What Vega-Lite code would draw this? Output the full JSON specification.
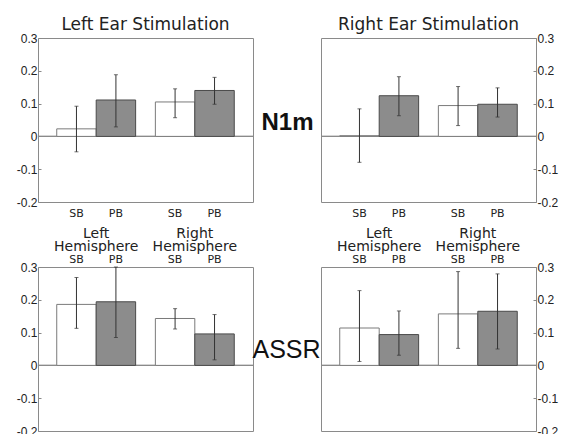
{
  "$schema": "https://vega.github.io/schema/vega-lite/v6.json",
  "padding": {"left": 15, "top": 15, "right": 0, "bottom": 0},
  "background": "white",
  "datasets": {
    "amp": [
      {"measure": "N1m", "ear": "Left", "hem": "Left Hemisphere", "cond": "SB", "mean": 0.023, "lo": -0.047, "hi": 0.092},
      {"measure": "N1m", "ear": "Left", "hem": "Left Hemisphere", "cond": "PB", "mean": 0.111, "lo": 0.029, "hi": 0.188},
      {"measure": "N1m", "ear": "Left", "hem": "Right Hemisphere", "cond": "SB", "mean": 0.105, "lo": 0.057, "hi": 0.145},
      {"measure": "N1m", "ear": "Left", "hem": "Right Hemisphere", "cond": "PB", "mean": 0.14, "lo": 0.098, "hi": 0.18},
      {"measure": "N1m", "ear": "Right", "hem": "Left Hemisphere", "cond": "SB", "mean": 0.002, "lo": -0.079, "hi": 0.084},
      {"measure": "N1m", "ear": "Right", "hem": "Left Hemisphere", "cond": "PB", "mean": 0.124, "lo": 0.063, "hi": 0.182},
      {"measure": "N1m", "ear": "Right", "hem": "Right Hemisphere", "cond": "SB", "mean": 0.094, "lo": 0.033, "hi": 0.152},
      {"measure": "N1m", "ear": "Right", "hem": "Right Hemisphere", "cond": "PB", "mean": 0.098, "lo": 0.059, "hi": 0.148},
      {"measure": "ASSR", "ear": "Left", "hem": "Left Hemisphere", "cond": "SB", "mean": 0.186, "lo": 0.113, "hi": 0.268},
      {"measure": "ASSR", "ear": "Left", "hem": "Left Hemisphere", "cond": "PB", "mean": 0.194, "lo": 0.085, "hi": 0.3},
      {"measure": "ASSR", "ear": "Left", "hem": "Right Hemisphere", "cond": "SB", "mean": 0.143, "lo": 0.111, "hi": 0.173},
      {"measure": "ASSR", "ear": "Left", "hem": "Right Hemisphere", "cond": "PB", "mean": 0.096, "lo": 0.017, "hi": 0.155},
      {"measure": "ASSR", "ear": "Right", "hem": "Left Hemisphere", "cond": "SB", "mean": 0.114, "lo": 0.012, "hi": 0.228},
      {"measure": "ASSR", "ear": "Right", "hem": "Left Hemisphere", "cond": "PB", "mean": 0.094, "lo": 0.031, "hi": 0.166},
      {"measure": "ASSR", "ear": "Right", "hem": "Right Hemisphere", "cond": "SB", "mean": 0.157, "lo": 0.052, "hi": 0.286},
      {"measure": "ASSR", "ear": "Right", "hem": "Right Hemisphere", "cond": "PB", "mean": 0.165, "lo": 0.05, "hi": 0.279}
    ]
  },
  "data": {"name": "amp"},
  "bounds": "flush",
  "columns": 2,
  "spacing": {"row": 65, "column": 68},
  "concat": [
    {
      "width": 215, "height": 164,
      "title": "Left Ear Stimulation",
      "transform": [{"filter": "datum.measure === 'N1m' && datum.ear === 'Left'"}],
      "layer": [
        {"mark": {"type": "rule", "color": "#8a8a8a", "strokeWidth": 1},
         "encoding": {"y": {"datum": 0, "type": "quantitative", "scale": {"domain": [-0.2, 0.3], "nice": false, "zero": false},
                            "axis": {"orient": "left", "values": [-0.2, -0.1, 0, 0.1, 0.2, 0.3], "labelOverlap": false, "title": null, "labelExpr": "datum.value === 0 ? '0' : replace(format(datum.value, '.1f'), '\u2212', '-')"}}}},
        {
          "encoding": {
            "x": {"field": "hem", "type": "nominal", "sort": ["Left Hemisphere", "Right Hemisphere"], "scale": {"paddingInner": 0.2, "paddingOuter": 0.19}, "axis": null},
            "xOffset": {"field": "cond", "type": "nominal", "sort": ["SB", "PB"], "scale": {"paddingInner": 0, "paddingOuter": 0}}
          },
          "layer": [
            {"mark": {"type": "bar", "strokeWidth": 1},
             "encoding": {
               "y": {"field": "mean", "type": "quantitative", "axis": {"orient": "left", "values": [-0.2, -0.1, 0, 0.1, 0.2, 0.3], "labelOverlap": false, "title": null, "labelExpr": "datum.value === 0 ? '0' : replace(format(datum.value, '.1f'), '\u2212', '-')"}},
               "y2": {"datum": 0},
               "color": {"field": "cond", "type": "nominal", "scale": {"domain": ["SB", "PB"], "range": ["#ffffff", "#8c8c8c"]}, "legend": null},
               "stroke": {"field": "cond", "type": "nominal", "scale": {"domain": ["SB", "PB"], "range": ["#7a7a7a", "#4a4a4a"]}, "legend": null}
             }},
            {"mark": {"type": "rule", "color": "#333333", "strokeWidth": 1},
             "encoding": {"y": {"field": "lo", "type": "quantitative", "axis": {"orient": "left", "values": [-0.2, -0.1, 0, 0.1, 0.2, 0.3], "labelOverlap": false, "title": null, "labelExpr": "datum.value === 0 ? '0' : replace(format(datum.value, '.1f'), '\u2212', '-')"}}, "y2": {"field": "hi"}}},
            {"mark": {"type": "tick", "color": "#333333", "size": 4, "thickness": 1},
             "encoding": {"y": {"field": "lo", "type": "quantitative", "axis": {"orient": "left", "values": [-0.2, -0.1, 0, 0.1, 0.2, 0.3], "labelOverlap": false, "title": null, "labelExpr": "datum.value === 0 ? '0' : replace(format(datum.value, '.1f'), '\u2212', '-')"}}}},
            {"mark": {"type": "tick", "color": "#333333", "size": 4, "thickness": 1},
             "encoding": {"y": {"field": "hi", "type": "quantitative", "axis": {"orient": "left", "values": [-0.2, -0.1, 0, 0.1, 0.2, 0.3], "labelOverlap": false, "title": null, "labelExpr": "datum.value === 0 ? '0' : replace(format(datum.value, '.1f'), '\u2212', '-')"}}}},
            {"mark": {"type": "text", "font": "DejaVu Sans", "fontSize": 11, "color": "#222222", "baseline": "alphabetic", "dy": 15},
             "encoding": {"y": {"datum": -0.2, "axis": {"orient": "left", "values": [-0.2, -0.1, 0, 0.1, 0.2, 0.3], "labelOverlap": false, "title": null, "labelExpr": "datum.value === 0 ? '0' : replace(format(datum.value, '.1f'), '\u2212', '-')"}}, "text": {"field": "cond"}}}
          ]
        }
      ]
    },
    {
      "width": 215, "height": 164,
      "title": "Right Ear Stimulation",
      "transform": [{"filter": "datum.measure === 'N1m' && datum.ear === 'Right'"}],
      "resolve": {"scale": {"y": "independent"}, "axis": {"y": "independent"}},
      "layer": [
        {"mark": {"type": "rule", "color": "#8a8a8a", "strokeWidth": 1},
         "encoding": {"y": {"datum": 0, "type": "quantitative", "scale": {"domain": [-0.2, 0.3], "nice": false, "zero": false},
                            "axis": {"orient": "left", "labels": false, "ticks": false, "domain": false, "title": "N1m",
                                     "titleAngle": 0, "titleFont": "Liberation Sans", "titleFontSize": 24, "titleFontWeight": "bold", "titleColor": "#111111",
                                     "titleAlign": "center", "titleBaseline": "middle", "titleX": -34, "titleY": 84}}}},
        {
          "encoding": {
            "x": {"field": "hem", "type": "nominal", "sort": ["Left Hemisphere", "Right Hemisphere"], "scale": {"paddingInner": 0.2, "paddingOuter": 0.19}, "axis": null},
            "xOffset": {"field": "cond", "type": "nominal", "sort": ["SB", "PB"], "scale": {"paddingInner": 0, "paddingOuter": 0}}
          },
          "layer": [
            {"mark": {"type": "bar", "strokeWidth": 1},
             "encoding": {
               "y": {"field": "mean", "type": "quantitative", "scale": {"domain": [-0.2, 0.3], "nice": false, "zero": false},
                     "axis": {"orient": "right", "values": [-0.2, -0.1, 0, 0.1, 0.2, 0.3], "labelOverlap": false, "title": null, "labelExpr": "datum.value === 0 ? '0' : replace(format(datum.value, '.1f'), '\u2212', '-')"}},
               "y2": {"datum": 0},
               "color": {"field": "cond", "type": "nominal", "scale": {"domain": ["SB", "PB"], "range": ["#ffffff", "#8c8c8c"]}, "legend": null},
               "stroke": {"field": "cond", "type": "nominal", "scale": {"domain": ["SB", "PB"], "range": ["#7a7a7a", "#4a4a4a"]}, "legend": null}
             }},
            {"mark": {"type": "rule", "color": "#333333", "strokeWidth": 1},
             "encoding": {"y": {"field": "lo", "type": "quantitative", "axis": {"orient": "right", "values": [-0.2, -0.1, 0, 0.1, 0.2, 0.3], "labelOverlap": false, "title": null, "labelExpr": "datum.value === 0 ? '0' : replace(format(datum.value, '.1f'), '\u2212', '-')"}}, "y2": {"field": "hi"}}},
            {"mark": {"type": "tick", "color": "#333333", "size": 4, "thickness": 1},
             "encoding": {"y": {"field": "lo", "type": "quantitative", "axis": {"orient": "right", "values": [-0.2, -0.1, 0, 0.1, 0.2, 0.3], "labelOverlap": false, "title": null, "labelExpr": "datum.value === 0 ? '0' : replace(format(datum.value, '.1f'), '\u2212', '-')"}}}},
            {"mark": {"type": "tick", "color": "#333333", "size": 4, "thickness": 1},
             "encoding": {"y": {"field": "hi", "type": "quantitative", "axis": {"orient": "right", "values": [-0.2, -0.1, 0, 0.1, 0.2, 0.3], "labelOverlap": false, "title": null, "labelExpr": "datum.value === 0 ? '0' : replace(format(datum.value, '.1f'), '\u2212', '-')"}}}},
            {"mark": {"type": "text", "font": "DejaVu Sans", "fontSize": 11, "color": "#222222", "baseline": "alphabetic", "dy": 15},
             "encoding": {"y": {"datum": -0.2, "axis": {"orient": "right", "values": [-0.2, -0.1, 0, 0.1, 0.2, 0.3], "labelOverlap": false, "title": null, "labelExpr": "datum.value === 0 ? '0' : replace(format(datum.value, '.1f'), '\u2212', '-')"}}, "text": {"field": "cond"}}}
          ]
        }
      ]
    },
    {
      "width": 215, "height": 164,
      "transform": [{"filter": "datum.measure === 'ASSR' && datum.ear === 'Left'"}],
      "layer": [
        {"mark": {"type": "rule", "color": "#8a8a8a", "strokeWidth": 1},
         "encoding": {"y": {"datum": 0, "type": "quantitative", "scale": {"domain": [-0.2, 0.3], "nice": false, "zero": false},
                            "axis": {"orient": "left", "values": [-0.2, -0.1, 0, 0.1, 0.2, 0.3], "labelOverlap": false, "title": null, "labelExpr": "datum.value === 0 ? '0' : replace(format(datum.value, '.1f'), '\u2212', '-')"}}}},
        {
          "encoding": {
            "x": {"field": "hem", "type": "nominal", "sort": ["Left Hemisphere", "Right Hemisphere"], "scale": {"paddingInner": 0.2, "paddingOuter": 0.19},
                  "axis": {"orient": "top", "title": null, "ticks": false, "domain": false, "labelAngle": 0, "labelExpr": "split(datum.label, ' ')",
                           "labelFont": "DejaVu Sans", "labelFontSize": 14, "labelLineHeight": 13, "labelPadding": 27}},
            "xOffset": {"field": "cond", "type": "nominal", "sort": ["SB", "PB"], "scale": {"paddingInner": 0, "paddingOuter": 0}}
          },
          "layer": [
            {"mark": {"type": "bar", "strokeWidth": 1},
             "encoding": {
               "y": {"field": "mean", "type": "quantitative", "axis": {"orient": "left", "values": [-0.2, -0.1, 0, 0.1, 0.2, 0.3], "labelOverlap": false, "title": null, "labelExpr": "datum.value === 0 ? '0' : replace(format(datum.value, '.1f'), '\u2212', '-')"}},
               "y2": {"datum": 0},
               "color": {"field": "cond", "type": "nominal", "scale": {"domain": ["SB", "PB"], "range": ["#ffffff", "#8c8c8c"]}, "legend": null},
               "stroke": {"field": "cond", "type": "nominal", "scale": {"domain": ["SB", "PB"], "range": ["#7a7a7a", "#4a4a4a"]}, "legend": null}
             }},
            {"mark": {"type": "rule", "color": "#333333", "strokeWidth": 1},
             "encoding": {"y": {"field": "lo", "type": "quantitative", "axis": {"orient": "left", "values": [-0.2, -0.1, 0, 0.1, 0.2, 0.3], "labelOverlap": false, "title": null, "labelExpr": "datum.value === 0 ? '0' : replace(format(datum.value, '.1f'), '\u2212', '-')"}}, "y2": {"field": "hi"}}},
            {"mark": {"type": "tick", "color": "#333333", "size": 4, "thickness": 1},
             "encoding": {"y": {"field": "lo", "type": "quantitative", "axis": {"orient": "left", "values": [-0.2, -0.1, 0, 0.1, 0.2, 0.3], "labelOverlap": false, "title": null, "labelExpr": "datum.value === 0 ? '0' : replace(format(datum.value, '.1f'), '\u2212', '-')"}}}},
            {"mark": {"type": "tick", "color": "#333333", "size": 4, "thickness": 1},
             "encoding": {"y": {"field": "hi", "type": "quantitative", "axis": {"orient": "left", "values": [-0.2, -0.1, 0, 0.1, 0.2, 0.3], "labelOverlap": false, "title": null, "labelExpr": "datum.value === 0 ? '0' : replace(format(datum.value, '.1f'), '\u2212', '-')"}}}},
            {"mark": {"type": "text", "font": "DejaVu Sans", "fontSize": 11, "color": "#222222", "baseline": "alphabetic", "dy": -4},
             "encoding": {"y": {"datum": 0.3, "axis": {"orient": "left", "values": [-0.2, -0.1, 0, 0.1, 0.2, 0.3], "labelOverlap": false, "title": null, "labelExpr": "datum.value === 0 ? '0' : replace(format(datum.value, '.1f'), '\u2212', '-')"}}, "text": {"field": "cond"}}}
          ]
        }
      ]
    },
    {
      "width": 215, "height": 164,
      "transform": [{"filter": "datum.measure === 'ASSR' && datum.ear === 'Right'"}],
      "resolve": {"scale": {"y": "independent"}, "axis": {"y": "independent"}},
      "layer": [
        {"mark": {"type": "rule", "color": "#8a8a8a", "strokeWidth": 1},
         "encoding": {"y": {"datum": 0, "type": "quantitative", "scale": {"domain": [-0.2, 0.3], "nice": false, "zero": false},
                            "axis": {"orient": "left", "labels": false, "ticks": false, "domain": false, "title": "ASSR",
                                     "titleAngle": 0, "titleFont": "Liberation Sans", "titleFontSize": 25, "titleFontWeight": "normal", "titleColor": "#111111",
                                     "titleAlign": "center", "titleBaseline": "middle", "titleX": -35, "titleY": 82}}}},
        {
          "encoding": {
            "x": {"field": "hem", "type": "nominal", "sort": ["Left Hemisphere", "Right Hemisphere"], "scale": {"paddingInner": 0.2, "paddingOuter": 0.19},
                  "axis": {"orient": "top", "title": null, "ticks": false, "domain": false, "labelAngle": 0, "labelExpr": "split(datum.label, ' ')",
                           "labelFont": "DejaVu Sans", "labelFontSize": 14, "labelLineHeight": 13, "labelPadding": 27}},
            "xOffset": {"field": "cond", "type": "nominal", "sort": ["SB", "PB"], "scale": {"paddingInner": 0, "paddingOuter": 0}}
          },
          "layer": [
            {"mark": {"type": "bar", "strokeWidth": 1},
             "encoding": {
               "y": {"field": "mean", "type": "quantitative", "scale": {"domain": [-0.2, 0.3], "nice": false, "zero": false},
                     "axis": {"orient": "right", "values": [-0.2, -0.1, 0, 0.1, 0.2, 0.3], "labelOverlap": false, "title": null, "labelExpr": "datum.value === 0 ? '0' : replace(format(datum.value, '.1f'), '\u2212', '-')"}},
               "y2": {"datum": 0},
               "color": {"field": "cond", "type": "nominal", "scale": {"domain": ["SB", "PB"], "range": ["#ffffff", "#8c8c8c"]}, "legend": null},
               "stroke": {"field": "cond", "type": "nominal", "scale": {"domain": ["SB", "PB"], "range": ["#7a7a7a", "#4a4a4a"]}, "legend": null}
             }},
            {"mark": {"type": "rule", "color": "#333333", "strokeWidth": 1},
             "encoding": {"y": {"field": "lo", "type": "quantitative", "axis": {"orient": "right", "values": [-0.2, -0.1, 0, 0.1, 0.2, 0.3], "labelOverlap": false, "title": null, "labelExpr": "datum.value === 0 ? '0' : replace(format(datum.value, '.1f'), '\u2212', '-')"}}, "y2": {"field": "hi"}}},
            {"mark": {"type": "tick", "color": "#333333", "size": 4, "thickness": 1},
             "encoding": {"y": {"field": "lo", "type": "quantitative", "axis": {"orient": "right", "values": [-0.2, -0.1, 0, 0.1, 0.2, 0.3], "labelOverlap": false, "title": null, "labelExpr": "datum.value === 0 ? '0' : replace(format(datum.value, '.1f'), '\u2212', '-')"}}}},
            {"mark": {"type": "tick", "color": "#333333", "size": 4, "thickness": 1},
             "encoding": {"y": {"field": "hi", "type": "quantitative", "axis": {"orient": "right", "values": [-0.2, -0.1, 0, 0.1, 0.2, 0.3], "labelOverlap": false, "title": null, "labelExpr": "datum.value === 0 ? '0' : replace(format(datum.value, '.1f'), '\u2212', '-')"}}}},
            {"mark": {"type": "text", "font": "DejaVu Sans", "fontSize": 11, "color": "#222222", "baseline": "alphabetic", "dy": -4},
             "encoding": {"y": {"datum": 0.3, "axis": {"orient": "right", "values": [-0.2, -0.1, 0, 0.1, 0.2, 0.3], "labelOverlap": false, "title": null, "labelExpr": "datum.value === 0 ? '0' : replace(format(datum.value, '.1f'), '\u2212', '-')"}}, "text": {"field": "cond"}}}
          ]
        }
      ]
    }
  ],
  "config": {
    "font": "Liberation Sans",
    "view": {"stroke": "#8a8a8a", "strokeWidth": 1},
    "title": {"font": "DejaVu Sans", "fontSize": 17, "fontWeight": "normal", "color": "#222222", "offset": -2},
    "axis": {"grid": false, "domain": false, "labelFont": "Liberation Sans", "labelFontSize": 12, "labelColor": "#222222",
             "labelOverlap": false, "tickColor": "#888888", "tickSize": -3, "labelPadding": 4},
    "tick": {"bandSize": 4}
  }
}
